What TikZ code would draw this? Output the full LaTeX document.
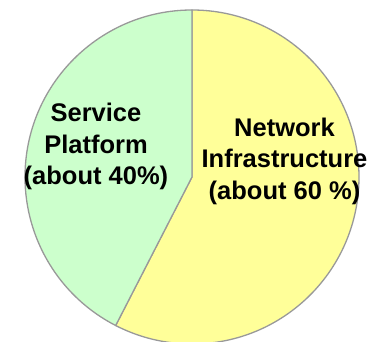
\documentclass[tikz,border=0pt]{standalone}
\usepackage{fontspec}
\setmainfont{Liberation Sans}
\usetikzlibrary{calc}
\definecolor{svcgreen}{HTML}{CCFFCC}
\definecolor{netyellow}{HTML}{FFFF99}
\definecolor{rimgray}{HTML}{999999}
\tikzset{%
    slicesty/.style={
        draw=rimgray,
        line width=1.3pt,
        line join=round,
    },
    labelsty/.style={
        align=center,
        inner sep=0pt,
        font=\fontsize{25.5}{31.5}\selectfont\bfseries,
    },
}

\begin{document}
\begin{tikzpicture}[x=1pt,y=1pt]

\useasboundingbox (0,0) rectangle (376,342);
\clip (0,0) rectangle (376,342);

% pie slices
\coordinate (c) at (192,165);
\path[slicesty,fill=netyellow] (c) -- ++(90:167) arc[start angle=90,end angle=-117.2,radius=167] -- cycle;
\path[slicesty,fill=svcgreen] (c) -- ++(90:167) arc[start angle=90,end angle=242.8,radius=167] -- cycle;

% slice labels
\node (svc) [labelsty] at (96,195.4) {Service\\Platform\\(about 40\%)};
\node (net) [labelsty] at (284.5,180.8) {Network\\Infrastructure\\(about 60 \%)};

\end{tikzpicture}
\end{document}
